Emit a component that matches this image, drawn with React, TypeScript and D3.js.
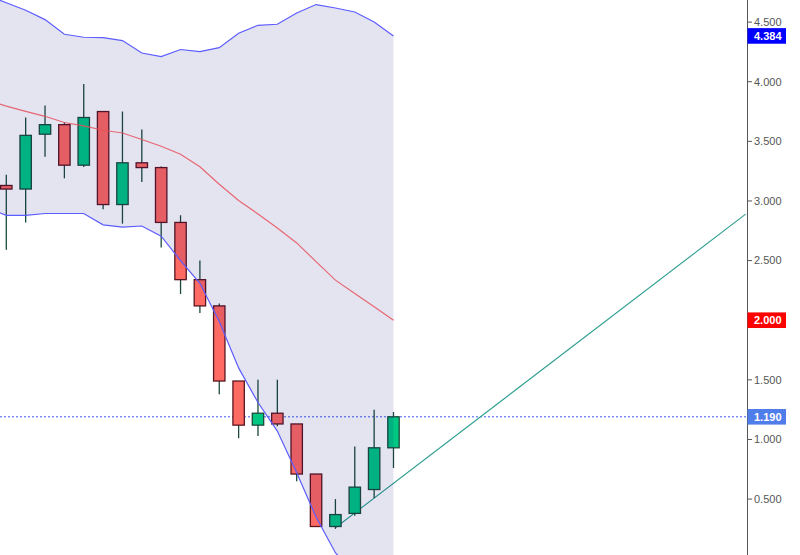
import React from "react";
import * as d3 from "d3";

// ---- data ----
const candleOpen = [3.13, 3.10, 3.56, 3.64, 3.30, 3.75, 2.97, 3.32, 3.28, 2.82, 2.34, 2.12, 1.49, 1.12, 1.22, 1.13, 0.71, 0.27, 0.38, 0.58, 0.93];
const candleHigh = [3.22, 3.70, 3.80, 3.66, 3.98, 3.75, 3.75, 3.60, 3.29, 2.88, 2.50, 2.14, 1.49, 1.50, 1.50, 1.13, 0.71, 0.50, 0.94, 1.25, 1.23];
const candleLow = [2.59, 2.82, 3.37, 3.19, 3.285, 2.93, 2.81, 3.16, 2.61, 2.22, 2.06, 1.38, 1.01, 1.03, 1.11, 0.65, 0.27, 0.25, 0.36, 0.51, 0.76];
const candleClose = [3.10, 3.55, 3.64, 3.30, 3.70, 2.97, 3.32, 3.28, 2.82, 2.34, 2.12, 1.49, 1.12, 1.22, 1.13, 0.71, 0.27, 0.37, 0.60, 0.93, 1.19];

// Bollinger bands, first entry is the bar before the first visible candle (index -1)
const bandStart = -1;
const upperBand = [4.726, 4.662, 4.599, 4.521, 4.398, 4.373, 4.370, 4.345, 4.241, 4.211, 4.270, 4.253, 4.286, 4.406, 4.473, 4.482, 4.576, 4.647, 4.618, 4.585, 4.501, 4.384];
const middleBand = [3.845, 3.795, 3.752, 3.710, 3.658, 3.629, 3.593, 3.570, 3.515, 3.459, 3.392, 3.287, 3.140, 3.004, 2.891, 2.774, 2.648, 2.491, 2.336, 2.224, 2.112, 2.000];
const lowerBand = [2.94, 2.88, 2.88, 2.895, 2.895, 2.895, 2.80, 2.78, 2.79, 2.705, 2.50, 2.31, 1.99, 1.60, 1.31, 1.07, 0.72, 0.35, 0.05, -0.14, -0.28, -0.38];

const trendIndex = [17, 38.19];
const trendValue = [0.26, 2.89];

const lastPrice = 1.19;

const tickValues = [0, 0.5, 1, 1.5, 2, 2.5, 3, 3.5, 4, 4.5];
const markerValues = [4.384, 2.0, 1.19];
const markerColors = ["#0000ff", "#ff0000", "#4f7de9"];

// ---- layout ----
const W = 800;
const H = 555;
const axisX = 747.5;

export default function App() {
  const x = d3.scaleLinear().domain([0, 20]).range([6.3, 393.5]);
  const y = d3.scaleLinear().domain([0, 4.5]).range([558.7, 22.1]);
  const fmt = d3.format(".3f");

  const bandIdx = upperBand.map((_, i) => i + bandStart);
  const area = d3
    .area<number>()
    .x((i) => x(i))
    .y0((i) => y(lowerBand[i - bandStart]))
    .y1((i) => y(upperBand[i - bandStart]));
  const lineOf = (arr: number[]) =>
    d3
      .line<number>()
      .x((i) => x(i))
      .y((i) => y(arr[i - bandStart]))(bandIdx) || "";

  const trendPath =
    d3
      .line<number>()
      .x((k) => x(trendIndex[k]))
      .y((k) => y(trendValue[k]))([0, 1]) || "";

  const bodyW = 11.4;

  return (
    <svg
      width={W}
      height={H}
      style={{ position: "absolute", left: 0, top: 0, background: "#fff" }}
      fontFamily="'Liberation Sans', Arial, sans-serif"
    >
      <defs>
        <clipPath id="plot">
          <rect x={0} y={0} width={axisX} height={H} />
        </clipPath>
      </defs>
      <g clipPath="url(#plot)">
        {/* last price dotted line */}
        <line
          x1={0}
          x2={axisX}
          y1={y(lastPrice)}
          y2={y(lastPrice)}
          stroke="#3d5cf0"
          strokeWidth={1}
          strokeDasharray="2,2"
        />
        {/* trend line */}
        <path d={trendPath} fill="none" stroke="#2a9d8f" strokeWidth={1.1} />
        {/* candles */}
        {candleOpen.map((o, i) => {
          const c = candleClose[i];
          const up = c >= o;
          const cx = x(i);
          const top = y(Math.max(o, c));
          const bot = y(Math.min(o, c));
          return (
            <g key={i}>
              <line
                x1={cx}
                x2={cx}
                y1={y(candleHigh[i])}
                y2={y(candleLow[i])}
                stroke="#1c4a3a"
                strokeWidth={1.3}
              />
              <rect
                x={cx - bodyW / 2}
                y={top}
                width={bodyW}
                height={Math.max(1, bot - top)}
                fill={up ? "#00c882" : "#ff6a62"}
                stroke={up ? "#1d4a3a" : "#5a1620"}
                strokeWidth={1.3}
              />
            </g>
          );
        })}
        {/* band fill overlay */}
        <path d={area(bandIdx) || ""} fill="rgb(0,0,120)" fillOpacity={0.105} />
        <path d={lineOf(upperBand)} fill="none" stroke="#5c5cff" strokeWidth={1.2} />
        <path d={lineOf(lowerBand)} fill="none" stroke="#5c5cff" strokeWidth={1.2} />
        <path d={lineOf(middleBand)} fill="none" stroke="#e8505c" strokeOpacity={0.85} strokeWidth={1.2} />
      </g>
      {/* axis */}
      <line x1={axisX} x2={axisX} y1={0} y2={H} stroke="#555" strokeWidth={1} />
      {tickValues.map((t) => (
        <g key={t}>
          <line x1={axisX} x2={axisX + 4.5} y1={y(t)} y2={y(t)} stroke="#555" strokeWidth={1} />
          <text x={754} y={y(t)} dy="0.35em" fontSize={11} fill="#555">
            {fmt(t)}
          </text>
        </g>
      ))}
      {markerValues.map((v, k) => (
        <g key={v}>
          <rect x={axisX} y={y(v) - 7.8} width={786 - axisX} height={15.6} fill={markerColors[k]} />
          <text x={754} y={y(v)} dy="0.36em" fontSize={11} fontWeight="bold" fill="#fff">
            {fmt(v)}
          </text>
        </g>
      ))}
    </svg>
  );
}
